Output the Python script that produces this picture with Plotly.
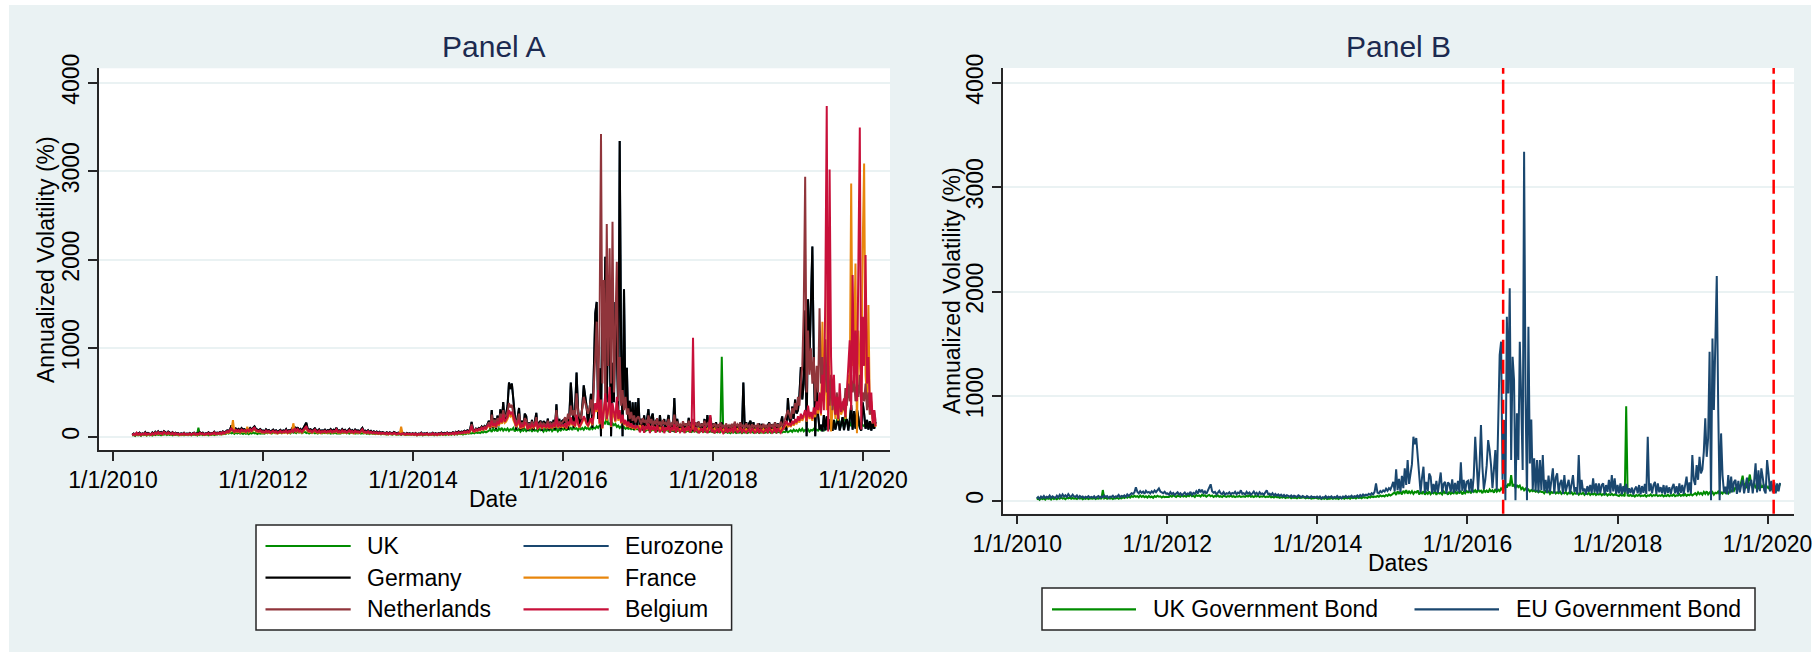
import pandas as pd
import plotly.graph_objects as go

# ---------------------------------------------------------------------------
# Weekly annualized volatility (%), first observation 2010-04-05.
# Year blocks: 2010 (39 wk), 2011, 2012 (53), 2013 ... 2018 (53), 2019, 2020 (9 wk)
# ---------------------------------------------------------------------------
start_date = "2010-04-05"

# Benchmark euro-area (German) government bond volatility
eu_bond = [
    # 2010
    22, 35, 18, 40, 28, 45, 25, 38, 30, 50, 27, 42, 33,
    26, 48, 31, 55, 36, 60, 40, 52, 35, 62, 44, 38, 58,
    41, 35, 50, 28, 45, 33, 40, 26, 38, 30, 44, 29, 36,
    # 2011
    30, 42, 25, 38, 45, 28, 40, 33, 50, 36, 44, 27, 39,
    35, 48, 30, 42, 38, 55, 34, 46, 40, 52, 37, 60, 45,
    58, 72, 65, 80, 128, 85, 70, 92, 75, 88, 66, 95, 78,
    84, 70, 90, 76, 98, 82, 105, 117, 88, 80, 72, 86, 68,
    # 2012
    70, 58, 82, 64, 75, 55, 68, 80, 60, 72, 52, 66, 78,
    58, 70, 62, 85, 56, 74, 65, 90, 68, 110, 80, 105, 72,
    88, 66, 95, 120, 157, 90, 76, 84, 62, 78, 95, 70, 64,
    82, 58, 72, 66, 80, 60, 75, 68, 85, 62, 78, 70, 100, 65,
    # 2013
    72, 60, 85, 66, 78, 58, 70, 88, 62, 75, 55, 80, 64,
    70, 58, 76, 100, 62, 68, 54, 72, 50, 65, 48, 60, 45,
    58, 42, 55, 40, 52, 46, 38, 50, 35, 48, 42, 36, 52,
    40, 34, 46, 38, 30, 44, 36, 28, 42, 33, 38, 30, 40,
    # 2014
    28, 40, 22, 35, 30, 45, 25, 38, 32, 42, 26, 36, 30,
    44, 28, 38, 24, 40, 34, 46, 30, 42, 36, 48, 32, 44,
    38, 50, 35, 55, 42, 60, 48, 58, 52, 66, 55, 72, 60,
    85, 166, 78, 70, 92, 80, 98, 88, 115, 95, 120, 105, 140,
    # 2015
    180, 90, 300, 100, 210, 85, 238, 120, 310, 150, 390, 160, 280,
    350, 612, 540, 600, 400, 290, 80, 220, 325, 75, 180, 90, 260,
    230, 70, 160, 85, 190, 75, 170, 270, 80, 160, 180, 70, 175,
    160, 85, 205, 75, 170, 90, 190, 80, 367, 95, 200, 85, 180,
    # 2016
    190, 90, 210, 80, 240, 612, 357, 100, 325, 724, 325, 110, 200,
    340, 580, 485, 340, 120, 300, 485, 100, 628, 1394, 1522, 200, 772,
    5, 1761, 1027, 2032, 389, 1378, 1155, 5, 836, 389, 1522, 963, 293,
    3340, 995, 5, 1665, 357, 778, 100, 405, 90, 390, 80, 390, 100,
    # 2017
    437, 90, 200, 75, 240, 85, 230, 310, 70, 220, 262, 80, 165,
    200, 65, 245, 90, 150, 200, 70, 180, 245, 85, 130, 60, 437,
    75, 200, 90, 118, 60, 140, 85, 150, 70, 214, 80, 165, 65,
    165, 75, 150, 165, 60, 150, 85, 200, 70, 245, 90, 214, 65,
    # 2018
    150, 70, 165, 60, 140, 80, 160, 65, 118, 75, 125, 60, 110,
    135, 70, 150, 60, 140, 75, 160, 65, 612, 90, 165, 70, 150,
    180, 65, 165, 80, 130, 70, 150, 60, 145, 75, 130, 65, 125,
    160, 70, 140, 60, 165, 75, 150, 65, 135, 230, 80, 175, 70, 437,
    # 2019
    200, 150, 340, 200, 420, 262, 300, 470, 788, 420, 600, 1426, 5,
    1553, 868, 1544, 2150, 884, 5, 644, 245, 80, 135, 60, 245, 70,
    230, 80, 180, 200, 65, 190, 80, 150, 200, 70, 165, 220, 75,
    165, 200, 70, 190, 357, 80, 290, 90, 310, 220, 100, 70, 389,
    # 2020
    260, 90, 190, 80, 175, 70, 165, 90, 170,
]

uk = [
    # 2010
    12, 20, 8, 25, 15, 22, 10, 28, 18, 24, 12, 30, 16,
    22, 14, 26, 18, 32, 20, 25, 15, 28, 22, 30, 18, 26,
    20, 24, 16, 28, 19, 25, 14, 22, 18, 27, 15, 23, 20,
    # 2011
    18, 26, 15, 24, 20, 28, 16, 102, 22, 30, 18, 25, 20,
    27, 16, 24, 21, 30, 18, 26, 22, 33, 25, 38, 28, 42,
    30, 45, 35, 48, 38, 44, 32, 50, 36, 46, 34, 42, 30,
    45, 33, 40, 28, 44, 35, 48, 38, 42, 30, 40, 34, 38,
    # 2012
    40, 35, 48, 38, 52, 42, 36, 50, 44, 38, 55, 40, 46,
    38, 52, 44, 60, 42, 48, 36, 54, 45, 50, 40, 58, 46,
    52, 38, 48, 55, 42, 50, 36, 46, 40, 52, 38, 44, 35,
    48, 42, 36, 45, 40, 50, 38, 44, 34, 42, 38, 46, 36, 40,
    # 2013
    42, 36, 48, 40, 52, 38, 44, 35, 46, 40, 50, 36, 42,
    38, 45, 34, 40, 36, 44, 32, 38, 30, 42, 34, 36, 28,
    35, 30, 38, 26, 33, 28, 36, 24, 32, 27, 30, 22, 34,
    26, 28, 24, 32, 22, 30, 25, 28, 20, 26, 23, 30, 22,
    # 2014
    20, 26, 16, 24, 18, 28, 15, 22, 19, 27, 17, 25, 20,
    24, 16, 28, 21, 26, 18, 30, 22, 27, 19, 32, 24, 29,
    21, 34, 26, 31, 23, 36, 28, 33, 25, 38, 30, 42, 34,
    40, 36, 45, 38, 50, 42, 48, 40, 55, 46, 60, 50, 58,
    # 2015
    65, 80, 55, 90, 70, 85, 60, 95, 75, 100, 68, 88, 72,
    92, 65, 85, 78, 98, 60, 82, 70, 90, 58, 80, 66, 88,
    62, 78, 70, 92, 56, 84, 68, 76, 60, 90, 72, 80, 58,
    86, 64, 78, 70, 94, 62, 82, 74, 88, 60, 84, 70, 92,
    # 2016
    80, 95, 70, 105, 85, 100, 75, 110, 88, 96, 72, 102, 84,
    98, 78, 108, 90, 100, 76, 112, 86, 104, 92, 118, 100, 130,
    150, 125, 165, 140, 245, 135, 160, 120, 150, 130, 145, 110, 125,
    100, 115, 95, 108, 88, 102, 90, 98, 85, 94, 80, 92, 84,
    # 2017
    85, 70, 92, 78, 88, 65, 82, 74, 90, 68, 80, 72, 86,
    64, 78, 70, 84, 62, 76, 68, 80, 60, 74, 66, 78, 58,
    72, 64, 76, 56, 70, 62, 74, 55, 68, 60, 72, 54, 66,
    58, 70, 52, 64, 57, 68, 50, 62, 55, 66, 52, 60, 56,
    # 2018
    52, 45, 58, 48, 55, 42, 904, 50, 46, 56, 44, 52, 40,
    54, 46, 58, 42, 50, 45, 55, 40, 52, 47, 60, 43, 54,
    48, 58, 44, 52, 46, 56, 41, 50, 45, 57, 43, 53, 47,
    60, 44, 52, 48, 62, 45, 55, 50, 64, 47, 58, 52, 66, 50,
    # 2019
    60, 72, 55, 80, 62, 75, 58, 85, 66, 90, 60, 78, 64,
    82, 58, 76, 70, 88, 62, 80, 68, 92, 74, 86, 70, 95,
    88, 110, 96, 130, 105, 150, 120, 175, 240, 140, 165, 120, 190,
    250, 150, 130, 170, 120, 145, 110, 180, 125, 140, 115, 160, 130,
    # 2020
    120, 150, 100, 135, 110, 140, 95, 125, 160,
]

france = [
    # 2010
    14, 24, 17, 34, 20, 30, 16, 28, 22, 33, 18, 29, 24,
    17, 31, 21, 38, 26, 42, 28, 36, 24, 44, 30, 26, 40,
    28, 24, 35, 19, 32, 22, 28, 17, 27, 20, 30, 19, 24,
    # 2011
    20, 28, 17, 26, 32, 19, 28, 22, 35, 25, 30, 18, 27,
    24, 34, 20, 29, 26, 38, 24, 32, 28, 36, 26, 42, 32,
    40, 48, 44, 55, 70, 188, 50, 62, 52, 60, 46, 66, 54,
    58, 48, 113, 52, 68, 56, 72, 80, 60, 56, 50, 60, 46,
    # 2012
    48, 40, 56, 44, 52, 38, 46, 54, 42, 50, 36, 45, 52,
    40, 48, 43, 58, 38, 50, 44, 62, 151, 74, 54, 70, 50,
    60, 44, 66, 80, 98, 62, 52, 58, 43, 54, 66, 48, 44,
    56, 40, 50, 45, 54, 42, 51, 46, 58, 43, 52, 48, 68, 45,
    # 2013
    50, 42, 58, 45, 53, 40, 48, 60, 43, 51, 38, 54, 44,
    48, 40, 52, 68, 43, 46, 37, 50, 35, 45, 34, 42, 32,
    40, 29, 38, 28, 36, 32, 27, 35, 24, 34, 29, 25, 36,
    28, 24, 32, 27, 113, 30, 25, 20, 29, 23, 27, 21, 28,
    # 2014
    19, 28, 15, 24, 21, 31, 18, 27, 22, 29, 19, 25, 21,
    30, 20, 27, 17, 28, 23, 32, 21, 29, 25, 34, 22, 30,
    27, 36, 24, 38, 29, 42, 34, 40, 36, 46, 38, 50, 42,
    58, 110, 62, 55, 72, 64, 78, 70, 92, 76, 98, 82, 110,
    # 2015
    120, 100, 160, 110, 140, 105, 155, 125, 190, 145, 220, 155, 170,
    200, 260, 230, 250, 190, 150, 110, 135, 170, 90, 120, 100, 145,
    130, 85, 110, 95, 120, 100, 115, 150, 92, 110, 120, 96, 115,
    105, 100, 130, 92, 115, 100, 125, 105, 190, 100, 128, 110, 120,
    # 2016
    110, 135, 92, 155, 120, 200, 130, 150, 110, 230, 140, 100, 130,
    165, 210, 185, 140, 120, 155, 190, 130, 240, 340, 280, 450, 140,
    380, 90, 320, 420, 180, 280, 480, 110, 340, 230, 165, 400, 180,
    270, 150, 230, 130, 175, 110, 155, 100, 140, 92, 120, 88, 110,
    # 2017
    100, 130, 82, 120, 92, 110, 78, 140, 88, 115, 74, 105, 82,
    120, 78, 100, 70, 110, 82, 96, 74, 115, 65, 92, 78, 128,
    70, 100, 74, 88, 64, 105, 78, 92, 66, 110, 74, 82, 150,
    78, 96, 70, 100, 64, 88, 74, 110, 66, 92, 82, 180, 78,
    # 2018
    74, 92, 60, 88, 70, 100, 64, 82, 56, 96, 66, 80, 60,
    90, 64, 110, 74, 88, 62, 100, 70, 82, 57, 92, 64, 78,
    55, 88, 66, 80, 54, 94, 62, 78, 57, 88, 64, 82, 55,
    96, 66, 80, 59, 100, 70, 88, 62, 110, 74, 92, 120, 150, 115,
    # 2019
    130, 110, 160, 125, 180, 140, 200, 160, 230, 180, 220, 260, 170,
    300, 200, 250, 180, 290, 220, 350, 260, 450, 240, 1299, 400, 900,
    300, 2342, 600, 60, 300, 450, 200, 380, 180, 450, 250, 300, 350,
    200, 420, 700, 500, 2862, 800, 1100, 1958, 40, 1200, 900, 500, 2147,
    # 2020
    3088, 700, 400, 1488, 250, 400, 150, 250, 110,
]

netherlands = [
    # 2010
    15, 26, 20, 38, 22, 33, 18, 30, 25, 36, 21, 32, 27,
    20, 35, 24, 42, 29, 46, 31, 40, 27, 48, 34, 30, 44,
    32, 27, 39, 21, 36, 25, 31, 20, 30, 23, 34, 22, 27,
    # 2011
    23, 32, 20, 30, 36, 22, 31, 25, 39, 28, 34, 21, 30,
    27, 38, 23, 33, 30, 43, 27, 36, 31, 41, 29, 47, 36,
    45, 55, 50, 63, 85, 64, 54, 72, 58, 68, 52, 74, 61,
    66, 54, 70, 59, 76, 63, 82, 92, 68, 63, 56, 67, 52,
    # 2012
    54, 45, 63, 49, 58, 43, 52, 61, 47, 56, 40, 50, 59,
    45, 54, 48, 65, 43, 57, 50, 70, 52, 85, 61, 79, 56,
    67, 50, 74, 90, 110, 70, 59, 65, 48, 61, 74, 54, 49,
    63, 45, 56, 51, 61, 47, 57, 52, 65, 48, 59, 54, 76, 50,
    # 2013
    56, 47, 65, 50, 59, 45, 54, 67, 48, 57, 43, 61, 49,
    54, 45, 58, 76, 48, 52, 41, 56, 40, 50, 38, 47, 36,
    45, 32, 43, 31, 40, 36, 30, 40, 27, 38, 32, 28, 40,
    31, 27, 36, 30, 23, 34, 28, 22, 32, 26, 30, 23, 31,
    # 2014
    21, 31, 17, 27, 23, 35, 20, 30, 25, 32, 21, 28, 23,
    34, 22, 30, 19, 31, 26, 36, 23, 32, 28, 38, 25, 34,
    30, 40, 27, 43, 32, 47, 38, 45, 40, 52, 43, 56, 47,
    65, 140, 70, 62, 85, 72, 90, 80, 105, 86, 112, 95, 130,
    # 2015
    160, 130, 250, 150, 190, 140, 210, 170, 260, 200, 300, 220, 240,
    280, 380, 330, 360, 260, 210, 150, 190, 260, 120, 160, 130, 210,
    190, 110, 150, 125, 170, 135, 150, 220, 120, 145, 160, 125, 150,
    140, 130, 180, 120, 150, 130, 165, 140, 300, 130, 170, 145, 160,
    # 2016
    180, 220, 150, 260, 200, 350, 240, 300, 220, 490, 280, 230, 200,
    320, 450, 380, 300, 260, 330, 420, 250, 520, 900, 1300, 400, 1280,
    3420, 600, 1770, 300, 2403, 800, 2128, 600, 2429, 500, 1400, 1977, 400,
    900, 350, 527, 300, 450, 250, 320, 200, 280, 180, 240, 160, 210,
    # 2017
    230, 180, 140, 210, 160, 190, 130, 240, 150, 200, 120, 180, 140,
    210, 130, 170, 120, 190, 140, 160, 125, 200, 110, 150, 130, 250,
    120, 170, 115, 140, 110, 175, 125, 150, 105, 180, 120, 140, 200,
    130, 160, 115, 170, 110, 145, 120, 180, 110, 150, 130, 240, 125,
    # 2018
    120, 150, 100, 140, 110, 160, 105, 135, 95, 150, 110, 130, 100,
    145, 105, 170, 120, 140, 100, 160, 110, 135, 95, 150, 105, 125,
    95, 140, 108, 130, 90, 150, 100, 125, 95, 145, 105, 135, 92,
    150, 108, 130, 98, 160, 112, 140, 100, 170, 120, 150, 200, 260, 300,
    # 2019
    250, 200, 320, 260, 380, 300, 450, 350, 600, 800, 1431, 2937, 500,
    1200, 700, 1000, 600, 900, 400, 800, 500, 1450, 600, 900, 400, 1100,
    500, 800, 350, 700, 300, 550, 250, 500, 300, 450, 280, 400, 300,
    550, 350, 600, 400, 700, 500, 650, 400, 600, 450, 700, 350, 500,
    # 2020
    400, 600, 300, 500, 250, 350, 200, 300, 180,
]

belgium = [
    # 2010
    18, 30, 22, 45, 25, 38, 20, 35, 28, 42, 24, 36, 30,
    22, 40, 27, 48, 32, 52, 35, 45, 30, 55, 38, 33, 50,
    36, 30, 44, 24, 40, 28, 35, 22, 33, 26, 38, 25, 30,
    # 2011
    26, 36, 22, 33, 40, 25, 35, 28, 44, 31, 38, 24, 34,
    30, 42, 26, 37, 33, 48, 30, 40, 35, 46, 32, 52, 40,
    50, 62, 56, 70, 95, 72, 60, 80, 65, 76, 58, 82, 68,
    74, 60, 78, 66, 85, 70, 92, 102, 76, 70, 62, 75, 58,
    # 2012
    60, 50, 70, 55, 65, 48, 58, 68, 52, 62, 45, 56, 66,
    50, 60, 54, 72, 48, 64, 56, 78, 58, 95, 68, 88, 62,
    75, 56, 82, 100, 120, 78, 66, 72, 54, 68, 82, 60, 55,
    70, 50, 62, 57, 68, 52, 64, 58, 72, 54, 66, 60, 85, 56,
    # 2013
    62, 52, 72, 56, 66, 50, 60, 75, 54, 64, 48, 68, 55,
    60, 50, 65, 85, 54, 58, 46, 62, 44, 56, 42, 52, 40,
    50, 36, 48, 35, 45, 40, 33, 44, 30, 42, 36, 31, 45,
    35, 30, 40, 33, 26, 38, 31, 25, 36, 29, 33, 26, 35,
    # 2014
    24, 35, 19, 30, 26, 39, 22, 33, 28, 36, 23, 31, 26,
    38, 24, 33, 21, 35, 29, 40, 26, 36, 31, 42, 28, 38,
    33, 44, 30, 48, 36, 52, 42, 50, 45, 58, 48, 62, 52,
    72, 120, 66, 60, 80, 70, 85, 76, 100, 82, 105, 90, 120,
    # 2015
    130, 110, 180, 120, 150, 115, 170, 140, 210, 160, 250, 170, 190,
    220, 300, 260, 280, 210, 170, 120, 150, 190, 100, 130, 110, 160,
    145, 90, 120, 105, 135, 110, 125, 170, 100, 120, 130, 105, 125,
    115, 110, 145, 100, 125, 110, 135, 115, 220, 110, 140, 120, 130,
    # 2016
    120, 150, 100, 170, 130, 220, 140, 160, 120, 250, 150, 110, 140,
    180, 230, 200, 150, 130, 170, 210, 140, 260, 380, 300, 527, 150,
    420, 100, 360, 490, 200, 310, 565, 120, 380, 250, 180, 452, 200,
    300, 160, 250, 140, 190, 120, 170, 110, 150, 100, 130, 95, 120,
    # 2017
    110, 50, 90, 130, 45, 120, 85, 150, 40, 125, 80, 115, 45,
    130, 85, 50, 75, 120, 40, 105, 80, 125, 45, 100, 85, 140,
    45, 110, 80, 50, 70, 115, 40, 100, 72, 120, 45, 90, 1118,
    50, 105, 75, 40, 70, 95, 45, 120, 72, 40, 90, 245, 50,
    # 2018
    80, 40, 65, 95, 45, 110, 70, 40, 60, 105, 45, 88, 65,
    98, 40, 120, 80, 45, 68, 110, 40, 90, 62, 45, 70, 85,
    40, 95, 72, 45, 58, 102, 40, 85, 62, 45, 70, 90, 40,
    105, 72, 45, 64, 110, 40, 95, 68, 45, 80, 100, 140, 180, 130,
    # 2019
    150, 120, 180, 140, 200, 160, 230, 180, 260, 200, 240, 300, 180,
    350, 220, 280, 200, 330, 250, 400, 300, 500, 260, 700, 300, 1582,
    3736, 60, 3020, 900, 350, 700, 250, 450, 200, 603, 280, 350, 433,
    220, 500, 800, 1090, 300, 1826, 600, 1200, 400, 2229, 3495, 80, 1356,
    # 2020
    800, 2052, 600, 900, 300, 500, 150, 300, 120,
]

# Brexit referendum and UK withdrawal dates
event_dates = ["2016-06-23", "2020-01-31"]

tick_dates = ["2010-01-01", "2012-01-01", "2014-01-01",
              "2016-01-01", "2018-01-01", "2020-01-01"]
tick_labels = ["1/1/2010", "1/1/2012", "1/1/2014",
               "1/1/2016", "1/1/2018", "1/1/2020"]
y_ticks = [0, 1000, 2000, 3000, 4000]

series_lengths = {len(s) for s in (eu_bond, uk, france, netherlands, belgium)}
if len(series_lengths) != 1:
    raise ValueError(f"series lengths differ: {series_lengths}")

dates = pd.date_range(start_date, periods=len(eu_bond), freq="7D")

# ---------------------------------------------------------------------------
W, H = 1818, 658
FONT = "Liberation Sans, Arial, Helvetica, sans-serif"
BG = "#EAF2F3"
AXIS = "#262626"
TITLE_COLOR = "#1C2A50"
TEXT_SIZE = 23


def px(x):
    return x / W


def py(y):
    return 1 - y / H


colors = {
    "UK": "#008C00",
    "Eurozone": "#1A476F",
    "Germany": "#000000",
    "France": "#E8860C",
    "Netherlands": "#90353B",
    "Belgium": "#C8103A",
}

panel_a = [
    ("UK", uk),
    ("Eurozone", eu_bond),
    ("Germany", eu_bond),
    ("France", france),
    ("Netherlands", netherlands),
    ("Belgium", belgium),
]
panel_b = [
    ("UK Government Bond", uk, colors["UK"]),
    ("EU Government Bond", eu_bond, colors["Eurozone"]),
]

fig = go.Figure()
for name, vals in panel_a:
    fig.add_trace(go.Scatter(
        x=dates, y=vals, mode="lines", name=name, showlegend=False,
        line=dict(color=colors[name], width=2.0), xaxis="x", yaxis="y"))
for name, vals, col in panel_b:
    fig.add_trace(go.Scatter(
        x=dates, y=vals, mode="lines", name=name, showlegend=False,
        line=dict(color=col, width=2.0), xaxis="x2", yaxis="y2"))

tickfont = dict(family=FONT, size=TEXT_SIZE, color="black")


def x_axis(domain, anchor, rng):
    return dict(
        domain=domain, anchor=anchor, type="date", range=rng,
        tickvals=tick_dates, ticktext=tick_labels, tickfont=tickfont,
        ticks="outside", ticklen=9, tickwidth=1.5, tickcolor=AXIS,
        showline=True, linecolor=AXIS, linewidth=1.5,
        showgrid=False, zeroline=False, automargin=False,
    )


def y_axis(domain, anchor, rng):
    return dict(
        domain=domain, anchor=anchor, range=rng,
        tickvals=y_ticks, tickfont=tickfont, tickangle=-90,
        ticks="outside", ticklen=9, tickwidth=1.5, tickcolor=AXIS,
        showline=True, linecolor=AXIS, linewidth=1.5,
        showgrid=True, gridcolor=BG, gridwidth=2, zeroline=False,
        automargin=False,
    )


shapes = []
# thin white frame around the tinted graph region
for x0, y0, x1, y1 in [(0, 0, W, 5), (0, 652, W, H), (0, 0, 9, H), (1811, 0, W, H)]:
    shapes.append(dict(type="rect", xref="paper", yref="paper",
                       x0=px(x0), x1=px(x1), y0=py(y1), y1=py(y0),
                       fillcolor="white", line=dict(width=0), layer="below"))

# event markers in Panel B
for d in event_dates:
    shapes.append(dict(type="line", xref="x2", yref="y2 domain",
                       x0=d, x1=d, y0=0, y1=1,
                       line=dict(color="#FF0000", width=2.5, dash="14px,6px")))

annotations = []


def text(x, y, s, size=TEXT_SIZE, color="black", angle=0, xanchor="center"):
    annotations.append(dict(
        x=px(x), y=py(y), xref="paper", yref="paper", text=s,
        showarrow=False, xanchor=xanchor, yanchor="middle", textangle=angle,
        font=dict(family=FONT, size=size, color=color)))


# titles and axis titles
text(494, 46.7, "Panel A", size=30, color=TITLE_COLOR)
text(1398, 46.7, "Panel B", size=30, color=TITLE_COLOR)
text(494, 499, "Date")
text(1398, 562.7, "Dates")
text(46, 260, "Annualized Volatility (%)", angle=-90)
text(952, 291, "Annualized Volatility (%)", angle=-90)


def legend_box(x0, y0, x1, y1):
    shapes.append(dict(type="rect", xref="paper", yref="paper",
                       x0=px(x0), x1=px(x1), y0=py(y1), y1=py(y0),
                       fillcolor="white", line=dict(color=AXIS, width=1.5)))


def legend_item(lx0, lx1, tx, y, label, col):
    shapes.append(dict(type="line", xref="paper", yref="paper",
                       x0=px(lx0), x1=px(lx1), y0=py(y), y1=py(y),
                       line=dict(color=col, width=2.2)))
    text(tx, y, label, xanchor="left")


legend_box(256, 525, 731.6, 630)
rows = [546, 577.7, 609.3]
for i, (name, _) in enumerate(panel_a):
    r, c = divmod(i, 2)
    if c == 0:
        legend_item(265.5, 350.7, 365, rows[r], name, colors[name])
    else:
        legend_item(523.5, 608.7, 623, rows[r], name, colors[name])

legend_box(1042, 588, 1755, 630)
legend_item(1052, 1136, 1151.3, 609.3, panel_b[0][0], panel_b[0][2])
legend_item(1414.5, 1499, 1513.6, 609.3, panel_b[1][0], panel_b[1][2])

fig.update_layout(
    width=W, height=H, autosize=False,
    margin=dict(l=0, r=0, t=0, b=0, pad=0),
    paper_bgcolor=BG, plot_bgcolor="white",
    font=dict(family=FONT, size=TEXT_SIZE, color="black"),
    xaxis=x_axis([px(98.6), px(890)], "y", ["2009-10-23", "2020-05-11"]),
    yaxis=y_axis([py(450), py(68.3)], "x", [-150.3, 4162.7]),
    xaxis2=x_axis([px(1003), px(1794)], "y2", ["2009-10-23", "2020-05-09"]),
    yaxis2=y_axis([py(513.7), py(68)], "x2", [-124.4, 4140.7]),
    shapes=shapes,
    annotations=annotations,
    showlegend=False,
)

# keep the page flush with the window edges
page_css = ("document.body.style.margin='0';"
            "document.body.style.padding='0';"
            "document.documentElement.style.overflow='hidden';")
fig.write_html("out.html", post_script=page_css)
